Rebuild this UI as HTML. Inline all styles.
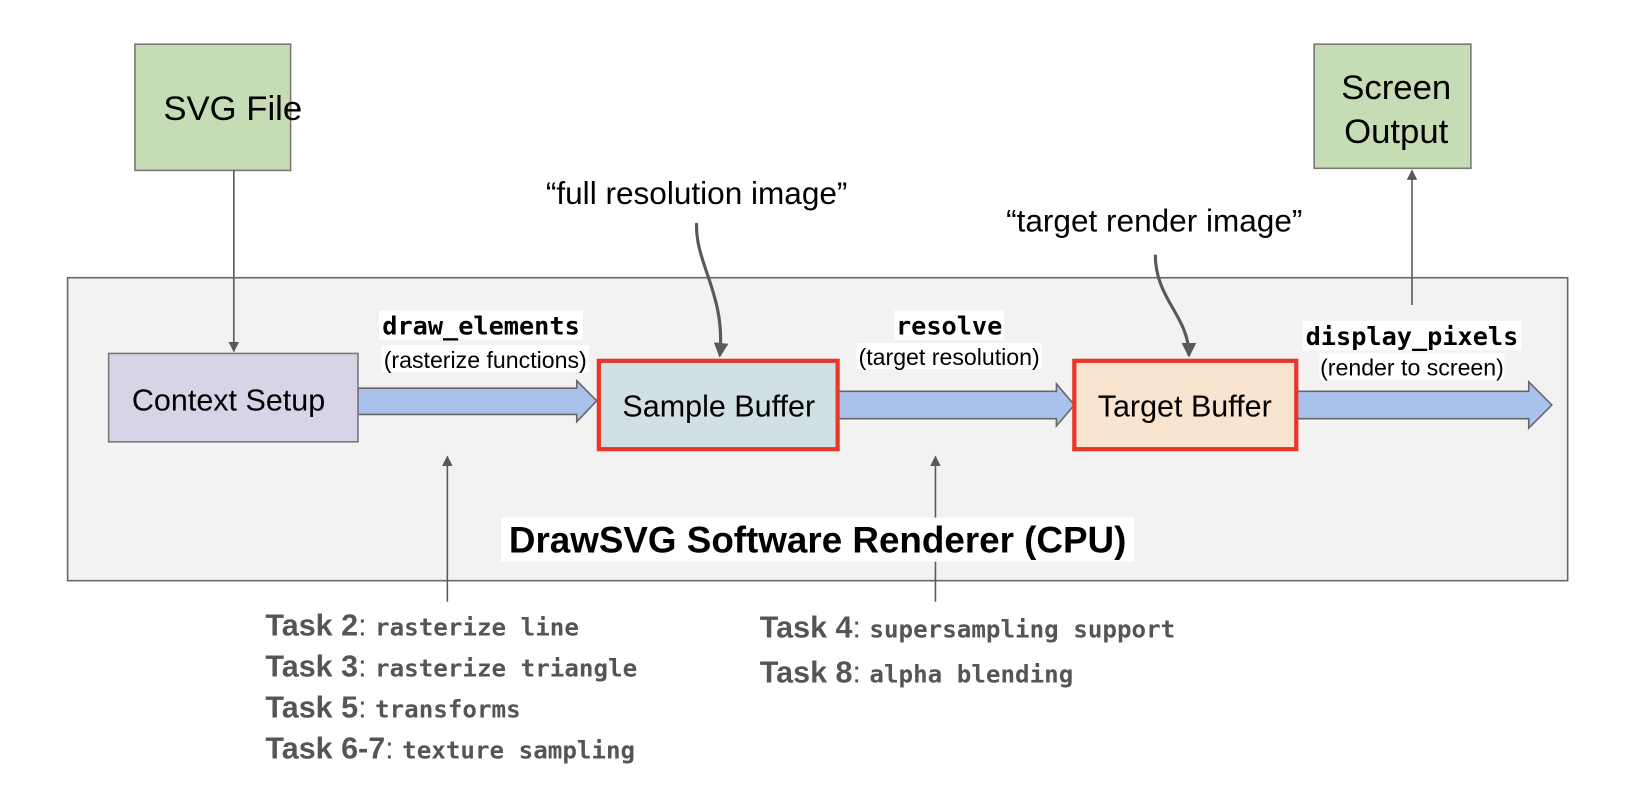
<!DOCTYPE html>
<html><head><meta charset="utf-8"><style>
html,body{margin:0;padding:0;background:#fff;}
svg{display:block;}
.s{font-family:"Liberation Sans",Arial,sans-serif;}
.m{font-family:"DejaVu Sans Mono","Liberation Mono",monospace;font-weight:bold;}
</style></head><body>
<svg width="1650" height="790" viewBox="0 0 1568 751" xmlns="http://www.w3.org/2000/svg">
<defs>
<marker id="ah" markerWidth="10" markerHeight="10" refX="9" refY="5" orient="auto" markerUnits="userSpaceOnUse" viewBox="0 0 10 10">
<path d="M0,0 L10,5 L0,10 z" fill="#595959"/></marker>
<marker id="ah2" markerWidth="14" markerHeight="14" refX="12" refY="7" orient="auto" markerUnits="userSpaceOnUse" viewBox="0 0 14 14">
<path d="M0,0 L14,7 L0,14 z" fill="#595959"/></marker>
</defs>
<rect x="64" y="264" width="1426" height="288" fill="#f2f2f2" stroke="#666" stroke-width="1.5"/>
<rect x="128" y="42" width="148" height="120" fill="#c5dcb4" stroke="#777" stroke-width="1.5"/>
<text class="s" x="221" y="114" font-size="33" text-anchor="middle">SVG File</text>
<rect x="1249" y="42" width="149" height="118" fill="#c5dcb4" stroke="#777" stroke-width="1.5"/>
<text class="s" x="1327" y="94" font-size="33" text-anchor="middle">Screen</text>
<text class="s" x="1327" y="136" font-size="33" text-anchor="middle">Output</text>
<line x1="222" y1="162" x2="222" y2="334" stroke="#595959" stroke-width="1.5" marker-end="url(#ah)"/>
<line x1="1342" y1="290" x2="1342" y2="162" stroke="#595959" stroke-width="1.5" marker-end="url(#ah)"/>
<line x1="425" y1="572" x2="425" y2="434" stroke="#595959" stroke-width="1.5" marker-end="url(#ah)"/>
<line x1="889" y1="572" x2="889" y2="434" stroke="#595959" stroke-width="1.5" marker-end="url(#ah)"/>
<path d="M662,212 C660,250 690,280 684,338" fill="none" stroke="#595959" stroke-width="3" marker-end="url(#ah2)"/>
<path d="M1098,242 C1098,285 1130,300 1130,338" fill="none" stroke="#595959" stroke-width="3" marker-end="url(#ah2)"/>
<path d="M340,369 L548,369 L548,362 L567,381 L548,401 L548,394 L340,394 z" fill="#a9c2ec" stroke="#666" stroke-width="1.5"/>
<path d="M797,372 L1004,372 L1004,365 L1021,385 L1004,405 L1004,398 L797,398 z" fill="#a9c2ec" stroke="#666" stroke-width="1.5"/>
<path d="M1233,372 L1453,372 L1453,363 L1475,385 L1453,407 L1453,398 L1233,398 z" fill="#a9c2ec" stroke="#666" stroke-width="1.5"/>
<rect x="103" y="336" width="237" height="84" fill="#d9d3e8" stroke="#777" stroke-width="1.5"/>
<text class="s" x="217" y="390" font-size="29" text-anchor="middle">Context Setup</text>
<rect x="569" y="343" width="227" height="84" fill="#d0e0e3" stroke="#e8362a" stroke-width="4"/>
<text class="s" x="683" y="396" font-size="29" text-anchor="middle">Sample Buffer</text>
<rect x="1021" y="343" width="211" height="84" fill="#f9e5cf" stroke="#e8362a" stroke-width="4"/>
<text class="s" x="1126" y="396" font-size="29" text-anchor="middle">Target Buffer</text>
<rect x="360" y="295" width="194" height="28" fill="#fff"/>
<text class="m" x="457" y="318" font-size="24" text-anchor="middle">draw_elements</text>
<rect x="362" y="328" width="198" height="26" fill="#fff"/>
<text class="s" x="461" y="350" font-size="22" text-anchor="middle">(rasterize functions)</text>
<rect x="850" y="295" width="104" height="28" fill="#fff"/>
<text class="m" x="902" y="318" font-size="24" text-anchor="middle">resolve</text>
<rect x="814" y="326" width="176" height="25" fill="#fff"/>
<text class="s" x="902" y="347" font-size="22" text-anchor="middle">(target resolution)</text>
<rect x="1238" y="305" width="208" height="28" fill="#fff"/>
<text class="m" x="1342" y="328" font-size="24" text-anchor="middle">display_pixels</text>
<rect x="1254" y="336" width="176" height="25" fill="#fff"/>
<text class="s" x="1342" y="357" font-size="22" text-anchor="middle">(render to screen)</text>
<text class="s" x="662" y="194" font-size="30" text-anchor="middle">“full resolution image”</text>
<text class="s" x="1097" y="220" font-size="30" text-anchor="middle">“target render image”</text>
<rect x="476" y="492" width="602" height="42" fill="#fff"/>
<text class="s" x="777" y="525" font-size="35" font-weight="bold" text-anchor="middle">DrawSVG Software Renderer (CPU)</text>
<g fill="#555">
<text x="252" y="604"><tspan class="s" font-weight="bold" font-size="29">Task 2</tspan><tspan class="s" font-size="29">: </tspan><tspan class="m" font-size="23">rasterize line</tspan></text>
<text x="252" y="643"><tspan class="s" font-weight="bold" font-size="29">Task 3</tspan><tspan class="s" font-size="29">: </tspan><tspan class="m" font-size="23">rasterize triangle</tspan></text>
<text x="252" y="682"><tspan class="s" font-weight="bold" font-size="29">Task 5</tspan><tspan class="s" font-size="29">: </tspan><tspan class="m" font-size="23">transforms</tspan></text>
<text x="252" y="721"><tspan class="s" font-weight="bold" font-size="29">Task 6-7</tspan><tspan class="s" font-size="29">: </tspan><tspan class="m" font-size="23">texture sampling</tspan></text>
<text x="722" y="606"><tspan class="s" font-weight="bold" font-size="29">Task 4</tspan><tspan class="s" font-size="29">: </tspan><tspan class="m" font-size="23">supersampling support</tspan></text>
<text x="722" y="649"><tspan class="s" font-weight="bold" font-size="29">Task 8</tspan><tspan class="s" font-size="29">: </tspan><tspan class="m" font-size="23">alpha blending</tspan></text>
</g>
</svg>
</body></html>
